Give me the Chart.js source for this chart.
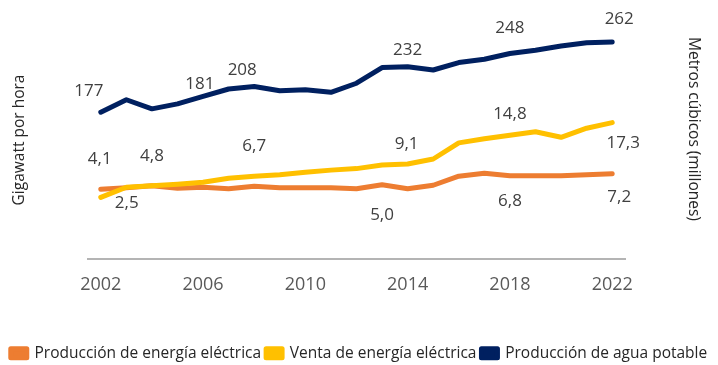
<!DOCTYPE html>
<html lang="es">
<head>
<meta charset="utf-8">
<title>Energía y agua potable</title>
<script src="https://cdn.jsdelivr.net/npm/chart.js@4.4.1/dist/chart.umd.min.js"></script>
<style>
  html, body { margin: 0; padding: 0; background: #ffffff; }
  #grafico { display: block; }
</style>
</head>
<body>
<canvas id="grafico" width="718" height="365"></canvas>
<script>
// Series anuales 2002-2022
const anios = ['2002', '2003', '2004', '2005', '2006', '2007', '2008', '2009', '2010', '2011',
  '2012', '2013', '2014', '2015', '2016', '2017', '2018', '2019', '2020', '2021', '2022'];

// Gigawatt por hora (eje izquierdo)
const produccionEnergia = [4.1, 4.4, 4.8, 4.3, 4.5, 4.2, 4.7, 4.4, 4.4, 4.4,
  4.2, 5.0, 4.2, 4.9, 6.7, 7.3, 6.8, 6.8, 6.8, 7.0, 7.2];
const ventaEnergia = [2.5, 4.5, 4.8, 5.1, 5.5, 6.3, 6.7, 7.0, 7.5, 7.9,
  8.2, 8.9, 9.1, 10.1, 13.3, 14.1, 14.8, 15.5, 14.4, 16.2, 17.3];

// Metros cúbicos en millones (eje derecho)
const produccionAgua = [177, 192, 181, 187, 196, 205, 208, 203, 204, 201,
  212, 231, 232, 228, 237, 241, 248, 252, 257, 261, 262];

const nombres = ['Producción de energía eléctrica', 'Venta de energía eléctrica', 'Producción de agua potable'];
const colores = ['#ED7D31', '#FFC000', '#002060'];

// etiquetas de valor: serie, índice del punto y desplazamiento del texto
const etiquetas = [
  { serie: 2, i: 0, dx: -12, dy: -21 },
  { serie: 2, i: 2, dx: 48, dy: -25 },
  { serie: 2, i: 6, dx: -12, dy: -16 },
  { serie: 2, i: 12, dx: 0, dy: -17 },
  { serie: 2, i: 16, dx: 0, dy: -25 },
  { serie: 2, i: 20, dx: 7, dy: -23 },
  { serie: 0, i: 0, dx: -1, dy: -30 },
  { serie: 0, i: 11, dx: 0, dy: 30 },
  { serie: 0, i: 16, dx: 0, dy: 25 },
  { serie: 0, i: 20, dx: 7, dy: 24 },
  { serie: 1, i: 0, dx: 26, dy: 6 },
  { serie: 1, i: 2, dx: 0, dy: -30 },
  { serie: 1, i: 6, dx: 0, dy: -30 },
  { serie: 1, i: 12, dx: -1, dy: -20 },
  { serie: 1, i: 16, dx: 0, dy: -21 },
  { serie: 1, i: 20, dx: 11, dy: 21 }
];

function formatoValor(serie, v) {
  if (serie === 2) return String(Math.round(v));
  return v.toFixed(1).replace('.', ',');
}

const valoresPlugin = {
  id: 'valores',
  afterDatasetsDraw(chart) {
    const ctx = chart.ctx;
    ctx.save();
    ctx.font = '17px "Open Sans", sans-serif';
    ctx.fillStyle = '#404040';
    ctx.textAlign = 'center';
    ctx.textBaseline = 'middle';
    etiquetas.forEach(e => {
      const punto = chart.getDatasetMeta(e.serie).data[e.i];
      const valor = chart.data.datasets[e.serie].data[e.i];
      ctx.fillText(formatoValor(e.serie, valor), punto.x + e.dx, punto.y + e.dy);
    });
    ctx.restore();
  }
};

const titulosPlugin = {
  id: 'titulosEjes',
  afterDraw(chart) {
    const ctx = chart.ctx;
    const area = chart.chartArea;
    ctx.save();
    ctx.font = '15.5px "Open Sans", sans-serif';
    ctx.fillStyle = '#262626';
    ctx.textAlign = 'center';
    ctx.textBaseline = 'middle';

    ctx.save();
    ctx.translate(area.left - 68, area.top + 132);
    ctx.rotate(-Math.PI / 2);
    ctx.fillText('Gigawatt por hora', 0, 0);
    ctx.restore();

    ctx.save();
    ctx.translate(area.right + 68, area.top + 121);
    ctx.rotate(Math.PI / 2);
    ctx.fillText('Metros cúbicos (millones)', 0, 0);
    ctx.restore();

    ctx.restore();
  }
};

function serie(idx, datos, eje, orden) {
  return {
    label: nombres[idx],
    data: datos,
    yAxisID: eje,
    order: orden,
    borderColor: colores[idx],
    backgroundColor: colores[idx],
    borderWidth: 5,
    borderCapStyle: 'round',
    borderJoinStyle: 'round',
    pointRadius: 0,
    tension: 0,
    fill: false
  };
}

// ejes verticales sin marcas, solo reservan el margen lateral
function ejeOculto(posicion, min, max, ancho) {
  return {
    position: posicion,
    min: min,
    max: max,
    grid: { display: false },
    border: { display: false },
    ticks: { display: false },
    afterFit: scale => { scale.width = ancho; }
  };
}

new Chart(document.getElementById('grafico'), {
  type: 'line',
  data: {
    labels: anios,
    datasets: [
      serie(0, produccionEnergia, 'yIzq', 2),
      serie(1, ventaEnergia, 'yIzq', 1),
      serie(2, produccionAgua, 'yDer', 0)
    ]
  },
  options: {
    responsive: false,
    animation: false,
    layout: { padding: { left: 0, right: 0, top: 8, bottom: -6 } },
    scales: {
      x: {
        offset: true,
        grid: { display: false, drawTicks: false },
        border: { color: '#b4b4b4', width: 2 },
        ticks: {
          autoSkip: false,
          maxRotation: 0,
          padding: 16,
          color: '#595959',
          font: { family: '"Open Sans", sans-serif', size: 18 },
          callback: function(value, index) {
            return index % 4 === 0 ? this.getLabelForValue(value) : '';
          }
        },
        afterFit: scale => { scale.height = 82; }
      },
      yIzq: ejeOculto('left', -9.6, 40, 88),
      yDer: ejeOculto('right', 0, 303, 93)
    },
    plugins: {
      legend: {
        position: 'bottom',
        labels: {
          boxWidth: 16,
          boxHeight: 9,
          padding: 5,
          color: '#262626',
          font: { family: '"Open Sans", sans-serif', size: 15.5 },
          sort: (a, b) => a.datasetIndex - b.datasetIndex
        }
      },
      tooltip: { enabled: false }
    }
  },
  plugins: [valoresPlugin, titulosPlugin]
});
</script>
</body>
</html>
